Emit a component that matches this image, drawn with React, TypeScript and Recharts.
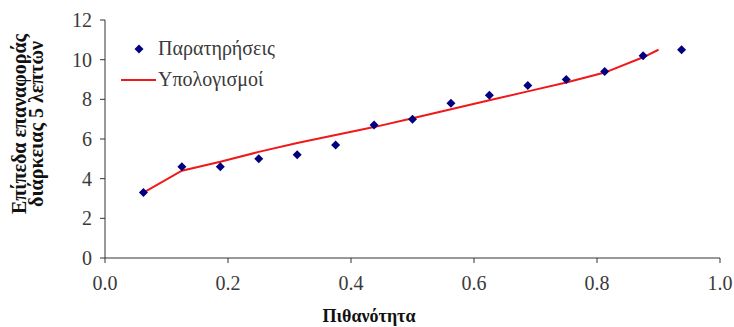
import React from "react";
import {
  ComposedChart,
  Scatter,
  Line,
  XAxis,
  YAxis,
} from "recharts";

// Observed return levels (plotting positions i/16)
const obsProb = [0.0625, 0.125, 0.1875, 0.25, 0.3125, 0.375, 0.4375, 0.5, 0.5625, 0.625, 0.6875, 0.75, 0.8125, 0.875, 0.9375];
const obsLevel = [3.3, 4.6, 4.6, 5.0, 5.2, 5.7, 6.7, 7.0, 7.8, 8.2, 8.7, 9.0, 9.4, 10.2, 10.5];

// Computed (fitted) return levels
const calcProb = [0.0625, 0.125, 0.1875, 0.25, 0.3125, 0.375, 0.4375, 0.5, 0.5625, 0.625, 0.6875, 0.75, 0.8125, 0.875, 0.9];
const calcLevel = [3.3, 4.4, 4.85, 5.35, 5.8, 6.2, 6.6, 7.05, 7.5, 7.95, 8.4, 8.85, 9.35, 10.12, 10.5];

const xTicks = [0, 0.2, 0.4, 0.6, 0.8, 1.0];
const yTicks = [0, 2, 4, 6, 8, 10, 12];

const obsLabel = "Παρατηρήσεις";
const calcLabel = "Υπολογισμοί";
const xTitle = "Πιθανότητα";
const yTitle1 = "Επίπεδα επαναφοράς";
const yTitle2 = "διάρκειας 5 λεπτών";

const observations = obsProb.map((p, i) => ({ x: p, y: obsLevel[i] }));
const computed = calcProb.map((p, i) => ({ x: p, y: calcLevel[i] }));

const FONT = "'Liberation Serif', 'Times New Roman', Times, serif";
const NAVY = "#000080";
const RED = "#f01818";
const TEXT = "#3a3a3a";

const Diamond = (props: any) => {
  const { cx, cy } = props;
  const r = 4.5;
  return (
    <polygon
      points={`${cx},${cy - r} ${cx + r},${cy} ${cx},${cy + r} ${cx - r},${cy}`}
      fill={NAVY}
    />
  );
};

// Legend drawn inside the plot, top-left
const LegendBox = () => (
  <g transform="translate(125,35)" style={{ fontFamily: FONT }}>
    <polygon points="14,9.5 18.5,14 14,18.5 9.5,14" fill={NAVY} />
    <text x={33} y={20} fontSize={20} fill={TEXT} style={{ fontFamily: FONT }}>
      {obsLabel}
    </text>
    <line x1={-4} y1={45} x2={31} y2={45} stroke={RED} strokeWidth={2} />
    <text x={33} y={51} fontSize={20} fill={TEXT} style={{ fontFamily: FONT }}>
      {calcLabel}
    </text>
  </g>
);

const YTitle = () => {
  const cy = 124;
  return (
    <text
      transform="rotate(-90)"
      fontSize={20}
      fontWeight="bold"
      fill="#111"
      textAnchor="middle"
      style={{ fontFamily: FONT }}
    >
      <tspan x={-cy} y={26}>{yTitle1}</tspan>
      <tspan x={-cy} y={43}>{yTitle2}</tspan>
    </text>
  );
};

const XTitle = () => (
  <g>
    <text
      x={369}
      y={322}
      fontSize={18}
      fontWeight="bold"
      fill="#111"
      textAnchor="middle"
      style={{ fontFamily: FONT }}
    >
      {xTitle}
    </text>
    <LegendBox />
  </g>
);

const tickStyle = { fontFamily: FONT, fontSize: 20, fill: TEXT, style: { fontFamily: FONT } };

export default function App() {
  return (
    <div style={{ position: "fixed", left: 0, top: 0, width: 734, height: 327, background: "#fff", fontFamily: FONT }}>
      <ComposedChart
        width={734}
        height={327}
        margin={{ top: 20, right: 14, bottom: 0, left: 0 }}
        style={{ fontFamily: FONT }}
      >
        <XAxis
          type="number"
          dataKey="x"
          domain={[0, 1]}
          ticks={xTicks}
          tickFormatter={(v: number) => v.toFixed(1)}
          height={69}
          tickSize={5}
          tickMargin={13}
          stroke="#333"
          tick={tickStyle}
          label={<XTitle />}
        />
        <YAxis
          type="number"
          dataKey="y"
          domain={[0, 12]}
          ticks={yTicks}
          width={105}
          tickSize={5}
          tickMargin={8}
          stroke="#333"
          tick={tickStyle}
          label={<YTitle />}
        />
        <Line
          data={computed}
          dataKey="y"
          type="linear"
          stroke={RED}
          strokeWidth={2}
          dot={false}
          activeDot={false}
          isAnimationActive={false}
        />
        <Scatter
          data={observations}
          dataKey="y"
          fill={NAVY}
          shape={<Diamond />}
          isAnimationActive={false}
        />
      </ComposedChart>
    </div>
  );
}
